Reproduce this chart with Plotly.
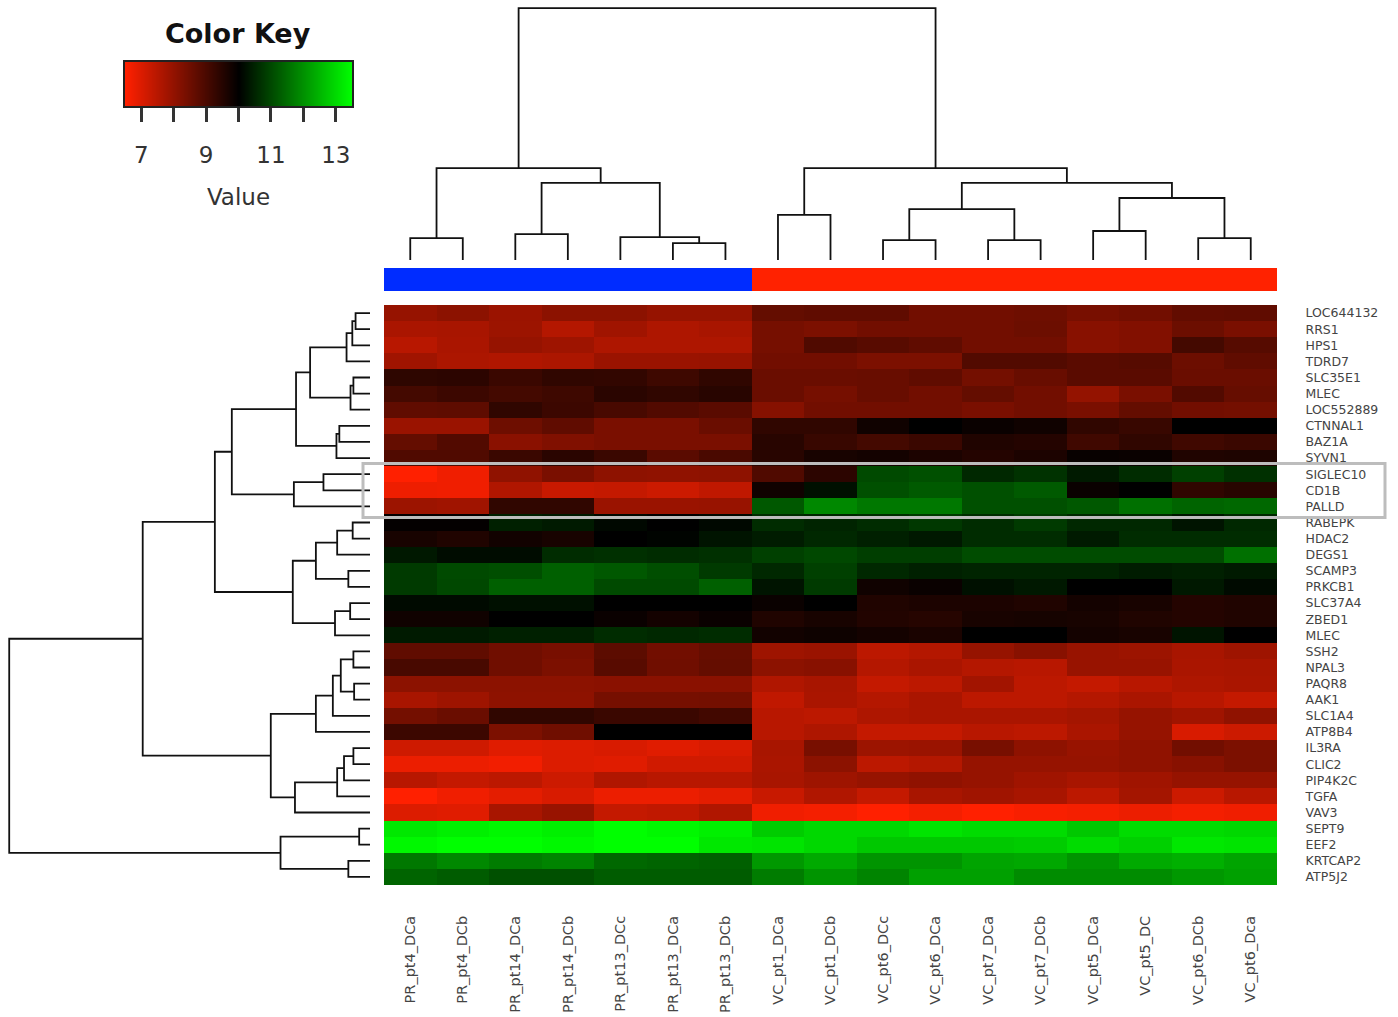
import plotly.graph_objects as go

W, H = 1398, 1017

col_labels = ["PR_pt4_DCa", "PR_pt4_DCb", "PR_pt14_DCa", "PR_pt14_DCb", "PR_pt13_DCc",
              "PR_pt13_DCa", "PR_pt13_DCb", "VC_pt1_DCa", "VC_pt1_DCb", "VC_pt6_DCc",
              "VC_pt6_DCa", "VC_pt7_DCa", "VC_pt7_DCb", "VC_pt5_DCa", "VC_pt5_DC",
              "VC_pt6_DCb", "VC_pt6_Dca"]
col_groups = ["PR"] * 7 + ["VC"] * 10

row_labels = ["LOC644132", "RRS1", "HPS1", "TDRD7", "SLC35E1", "MLEC", "LOC552889",
              "CTNNAL1", "BAZ1A", "SYVN1", "SIGLEC10", "CD1B", "PALLD", "RABEPK",
              "HDAC2", "DEGS1", "SCAMP3", "PRKCB1", "SLC37A4", "ZBED1", "MLEC", "SSH2",
              "NPAL3", "PAQR8", "AAK1", "SLC1A4", "ATP8B4", "IL3RA", "CLIC2", "PIP4K2C",
              "TGFA", "VAV3", "SEPT9", "EEF2", "KRTCAP2", "ATP5J2"]

# expression values, PR samples (7 columns)
pr_values = [
    [7.94, 8.08, 7.87, 8.08, 8.08, 7.94, 7.94],
    [7.67, 7.69, 7.86, 7.53, 7.80, 7.61, 7.69],
    [7.47, 7.67, 7.94, 7.83, 7.61, 7.61, 7.61],
    [7.80, 7.64, 7.58, 7.64, 7.89, 7.89, 7.91],
    [9.37, 9.40, 9.20, 9.34, 9.31, 9.15, 9.34],
    [9.07, 9.18, 9.07, 9.15, 9.42, 9.34, 9.45],
    [8.68, 8.71, 9.34, 9.18, 9.01, 8.87, 8.76],
    [7.89, 7.89, 8.49, 8.68, 8.32, 8.32, 8.54],
    [8.63, 8.87, 8.11, 8.24, 8.32, 8.32, 8.32],
    [8.90, 8.90, 9.20, 9.42, 9.20, 8.76, 8.98],
    [6.50, 6.71, 8.02, 8.32, 8.05, 8.02, 8.05],
    [6.73, 6.71, 7.58, 7.25, 7.31, 7.20, 7.36],
    [7.86, 7.80, 9.34, 9.34, 7.89, 7.89, 7.91],
    [9.95, 9.95, 10.44, 10.36, 10.11, 10.00, 10.11],
    [9.67, 9.56, 9.75, 9.67, 10.00, 10.05, 10.27],
    [10.33, 10.16, 10.16, 10.60, 10.66, 10.60, 10.66],
    [10.80, 11.02, 11.07, 11.32, 11.21, 11.07, 10.80],
    [10.80, 10.99, 11.32, 11.32, 11.02, 11.02, 11.32],
    [10.14, 10.14, 10.22, 10.22, 10.00, 10.00, 10.00],
    [9.78, 9.78, 10.00, 10.00, 9.86, 9.73, 9.86],
    [10.36, 10.36, 10.44, 10.44, 10.60, 10.55, 10.60],
    [8.68, 8.68, 8.46, 8.35, 8.74, 8.43, 8.60],
    [9.01, 9.01, 8.46, 8.30, 8.79, 8.46, 8.63],
    [8.08, 8.08, 8.08, 8.08, 8.11, 8.11, 8.11],
    [7.69, 7.83, 8.05, 8.05, 8.38, 8.38, 8.41],
    [8.41, 8.54, 9.34, 9.34, 9.20, 9.20, 9.09],
    [9.18, 9.18, 8.30, 8.46, 10.00, 10.00, 10.00],
    [7.17, 7.17, 6.92, 6.98, 7.03, 6.92, 7.03],
    [6.76, 6.76, 6.68, 6.98, 6.92, 7.14, 7.14],
    [7.47, 7.31, 7.42, 7.20, 7.58, 7.47, 7.47],
    [6.50, 6.71, 6.87, 7.03, 6.76, 6.76, 6.87],
    [6.98, 6.92, 7.69, 7.91, 7.31, 7.36, 7.58],
    [13.19, 13.29, 13.40, 13.29, 13.50, 13.40, 13.29],
    [13.40, 13.50, 13.50, 13.40, 13.50, 13.50, 13.19],
    [11.65, 11.87, 11.70, 11.81, 11.43, 11.37, 11.32],
    [11.37, 11.26, 11.10, 11.10, 11.26, 11.26, 11.26],
]

# expression values, VC samples (10 columns)
vc_values = [
    [8.63, 8.68, 8.68, 8.43, 8.43, 8.49, 8.35, 8.43, 8.65, 8.68],
    [8.38, 8.30, 8.43, 8.43, 8.43, 8.52, 8.13, 8.22, 8.52, 8.32],
    [8.38, 8.90, 8.79, 8.68, 8.43, 8.43, 8.13, 8.22, 9.07, 8.82],
    [8.43, 8.43, 8.30, 8.30, 8.87, 8.87, 8.76, 8.82, 8.52, 8.68],
    [8.54, 8.54, 8.57, 8.68, 8.41, 8.57, 8.76, 8.76, 8.54, 8.54],
    [8.54, 8.38, 8.57, 8.43, 8.63, 8.43, 7.97, 8.32, 8.87, 8.60],
    [8.16, 8.43, 8.43, 8.43, 8.32, 8.43, 8.32, 8.63, 8.43, 8.41],
    [9.34, 9.34, 9.78, 10.00, 9.86, 9.78, 9.34, 9.23, 10.00, 10.00],
    [9.45, 9.23, 9.07, 9.20, 9.56, 9.51, 9.12, 9.34, 9.12, 9.20],
    [9.45, 9.67, 9.73, 9.62, 9.51, 9.62, 9.89, 9.86, 9.56, 9.59],
    [8.90, 9.40, 11.02, 11.10, 10.55, 10.69, 10.36, 10.60, 10.88, 10.66],
    [9.78, 10.22, 11.10, 11.24, 11.10, 11.24, 9.86, 10.00, 9.34, 9.45],
    [11.21, 11.87, 11.65, 11.65, 11.10, 11.10, 11.21, 11.54, 11.37, 11.43],
    [10.60, 10.49, 10.60, 10.77, 10.60, 10.80, 10.55, 10.55, 10.27, 10.55],
    [10.38, 10.55, 10.44, 10.33, 10.60, 10.60, 10.36, 10.60, 10.60, 10.60],
    [10.88, 10.99, 10.85, 10.85, 11.04, 11.04, 11.04, 11.04, 11.04, 11.54],
    [10.55, 10.88, 10.55, 10.44, 10.49, 10.49, 10.49, 10.38, 10.44, 10.36],
    [10.27, 10.80, 9.78, 9.86, 10.22, 10.33, 10.00, 10.00, 10.33, 10.14],
    [9.86, 10.00, 9.56, 9.62, 9.62, 9.56, 9.73, 9.67, 9.51, 9.56],
    [9.56, 9.67, 9.53, 9.48, 9.67, 9.70, 9.67, 9.56, 9.51, 9.56],
    [9.75, 9.81, 9.73, 9.64, 10.00, 10.00, 9.73, 9.67, 10.27, 10.00],
    [7.83, 7.89, 7.42, 7.53, 7.94, 8.13, 7.91, 7.86, 7.69, 7.83],
    [8.08, 8.13, 7.53, 7.67, 7.53, 7.47, 7.91, 7.91, 7.67, 7.69],
    [7.58, 7.69, 7.31, 7.42, 7.78, 7.42, 7.31, 7.47, 7.61, 7.67],
    [7.36, 7.67, 7.53, 7.67, 7.42, 7.42, 7.53, 7.67, 7.47, 7.31],
    [7.47, 7.42, 7.61, 7.67, 7.67, 7.67, 7.75, 7.94, 7.80, 8.02],
    [7.47, 7.61, 7.31, 7.31, 7.47, 7.42, 7.67, 7.94, 7.03, 7.20],
    [7.69, 8.35, 7.86, 7.89, 8.35, 8.05, 7.91, 8.02, 8.43, 8.30],
    [7.67, 8.08, 7.42, 7.53, 7.94, 7.94, 7.94, 8.02, 8.13, 8.30],
    [7.69, 7.83, 7.94, 8.02, 7.94, 7.80, 7.69, 7.80, 7.94, 7.94],
    [7.25, 7.58, 7.31, 7.69, 7.80, 7.69, 7.42, 7.75, 7.20, 7.47],
    [6.71, 6.65, 6.50, 6.65, 6.50, 6.60, 6.65, 6.76, 6.65, 6.71],
    [12.80, 12.97, 12.97, 13.13, 13.02, 13.02, 12.75, 13.02, 13.02, 12.97],
    [13.13, 12.97, 12.75, 12.75, 12.75, 12.80, 13.02, 12.86, 13.19, 13.13],
    [12.09, 12.33, 12.03, 12.03, 12.25, 12.31, 12.03, 12.33, 12.42, 12.25],
    [11.70, 12.03, 11.81, 12.20, 12.20, 11.92, 11.92, 11.92, 12.09, 12.20],
]

# hclust-style merges: negative = leaf (1-based), positive = earlier merge (1-based)
col_merges = [
    (-1, -2, 0.087), (-3, -4, 0.103), (-6, -7, 0.067), (-5, 3, 0.091),
    (2, 4, 0.306), (1, 5, 0.365), (-8, -9, 0.179), (-10, -11, 0.079),
    (-12, -13, 0.079), (8, 9, 0.202), (-14, -15, 0.115), (-16, -17, 0.087),
    (11, 12, 0.246), (10, 13, 0.306), (7, 14, 0.365), (6, 15, 1.0),
]
row_merges = [
    (-1, -2, 0.040), (1, -3, 0.049), (2, -4, 0.065), (-5, -6, 0.046),
    (4, -7, 0.054), (3, 5, 0.166), (-8, -9, 0.085), (7, -10, 0.093),
    (6, 8, 0.205), (-11, -12, 0.129), (10, -13, 0.211), (9, 11, 0.383),
    (-14, -15, 0.048), (13, -16, 0.091), (-17, -18, 0.060), (14, 15, 0.150),
    (-19, -20, 0.055), (17, -21, 0.097), (16, 18, 0.214), (12, 19, 0.430),
    (-22, -23, 0.046), (-24, -25, 0.044), (21, 22, 0.081), (23, -26, 0.103),
    (24, -27, 0.150), (-28, -29, 0.046), (26, -30, 0.072), (27, -31, 0.091),
    (28, -32, 0.208), (25, 29, 0.275), (20, 30, 0.630), (-33, -34, 0.030),
    (-35, -36, 0.060), (32, 33, 0.248), (31, 34, 1.0),
]
highlight_rows = ["SIGLEC10", "CD1B", "PALLD"]

key_range = [6.5, 13.5]
key_ticks = [7, 8, 9, 10, 11, 12, 13]
key_ticktext = ["7", "", "9", "", "11", "", "13"]

RED = "rgb(255,32,0)"
GREEN = "rgb(0,255,0)"
BLUE_BAR = "rgb(0,44,255)"
RED_BAR = "rgb(255,34,0)"
FONT = "DejaVu Sans"


def dendro_lines(merges):
    nodes = []
    xs, ys = [], []

    def get(ref):
        if ref < 0:
            return (-ref - 1, 0.0)
        return nodes[ref - 1]

    for a, b, h in merges:
        pa, ha = get(a)
        pb, hb = get(b)
        xs += [pa, pa, pb, pb, None]
        ys += [ha, h, h, hb, None]
        nodes.append(((pa + pb) / 2.0, h))
    return xs, ys


z = [pr + vc for pr, vc in zip(pr_values, vc_values)]
n_rows, n_cols = len(row_labels), len(col_labels)


def px_x(p):
    return p / W


def px_y(p):
    return 1 - p / H


hm_x = [px_x(384), px_x(1277)]
hm_y = [px_y(885), px_y(305)]

colorscale = [[0.0, RED], [0.5, "rgb(0,0,0)"], [1.0, GREEN]]

fig = go.Figure()

# main heatmap
fig.add_trace(go.Heatmap(
    z=z, x=list(range(n_cols)), y=list(range(n_rows)),
    colorscale=colorscale, zmin=key_range[0], zmax=key_range[1],
    showscale=False, xaxis="x", yaxis="y", hoverinfo="skip",
))

# column side colours
group_names = sorted(set(col_groups))
fig.add_trace(go.Heatmap(
    z=[[group_names.index(g) for g in col_groups]], x=list(range(n_cols)), y=[0],
    colorscale=[[0, BLUE_BAR], [0.5, BLUE_BAR], [0.5, RED_BAR], [1, RED_BAR]],
    zmin=0, zmax=1, showscale=False, xaxis="x2", yaxis="y2", hoverinfo="skip",
))

# column dendrogram
cx, cy = dendro_lines(col_merges)
fig.add_trace(go.Scatter(x=cx, y=cy, mode="lines", line=dict(color="#111", width=1.8),
                         xaxis="x3", yaxis="y3", showlegend=False, hoverinfo="skip"))

# row dendrogram
rx, ry = dendro_lines(row_merges)
fig.add_trace(go.Scatter(x=ry, y=rx, mode="lines", line=dict(color="#111", width=1.8),
                         xaxis="x4", yaxis="y4", showlegend=False, hoverinfo="skip"))

# colour key (gradient interpolated by the heatmap between the range ends)
fig.add_trace(go.Heatmap(
    z=[key_range], x=key_range, y=[0], zsmooth="best",
    colorscale=colorscale, zmin=key_range[0], zmax=key_range[1],
    showscale=False, xaxis="x5", yaxis="y5", hoverinfo="skip",
))

hidden = dict(showgrid=False, zeroline=False, showline=False, showticklabels=False,
              ticks="", automargin=False)

fig.update_layout(
    width=W, height=H, margin=dict(l=0, r=0, t=0, b=0),
    paper_bgcolor="white", plot_bgcolor="white", template="none", showlegend=False,
    xaxis=dict(domain=hm_x, range=[-0.5, n_cols - 0.5], anchor="y",
               tickvals=list(range(n_cols)), ticktext=col_labels, tickangle=-90,
               ticks="outside", ticklen=24, tickcolor="rgba(0,0,0,0)",
               tickfont=dict(family=FONT, size=14.5, color="#444"),
               showgrid=False, zeroline=False, showline=False, automargin=False),
    yaxis=dict(domain=hm_y, range=[n_rows - 0.5, -0.5], anchor="x", side="right",
               tickvals=list(range(n_rows)), ticktext=row_labels,
               ticks="outside", ticklen=25, tickcolor="rgba(0,0,0,0)",
               tickfont=dict(family=FONT, size=12.5, color="#444"),
               showgrid=False, zeroline=False, showline=False, automargin=False),
    xaxis2=dict(domain=hm_x, range=[-0.5, n_cols - 0.5], anchor="y2", **hidden),
    yaxis2=dict(domain=[px_y(291), px_y(268)], range=[-0.5, 0.5], anchor="x2", **hidden),
    xaxis3=dict(domain=hm_x, range=[-0.5, n_cols - 0.5], anchor="y3", **hidden),
    yaxis3=dict(domain=[px_y(260), px_y(3)], range=[0, 1.02], anchor="x3", **hidden),
    xaxis4=dict(domain=[px_x(2), px_x(370)], range=[1.02, 0], anchor="y4", **hidden),
    yaxis4=dict(domain=hm_y, range=[n_rows - 0.5, -0.5], anchor="x4", **hidden),
    xaxis5=dict(domain=[px_x(125), px_x(352)], range=key_range, anchor="y5",
                tickvals=key_ticks, ticktext=key_ticktext,
                ticks="outside", ticklen=14, tickwidth=2.5, tickcolor="#333",
                ticklabelstandoff=14,
                tickfont=dict(family=FONT, size=23, color="#333"),
                title=dict(text="Value", standoff=22, font=dict(family=FONT, size=23, color="#333")),
                showline=True, mirror=True, linecolor="#222", linewidth=1.5,
                showgrid=False, zeroline=False, automargin=False),
    yaxis5=dict(domain=[px_y(106), px_y(62)], range=[-0.5, 0.5], anchor="x5",
                showline=True, mirror=True, linecolor="#222", linewidth=1.5,
                showgrid=False, zeroline=False, showticklabels=False, ticks="",
                automargin=False),
)

# highlight box around selected rows
hl_idx = [row_labels.index(r) for r in highlight_rows]
fig.add_shape(type="rect", xref="paper", yref="y",
              x0=px_x(363), x1=px_x(1385),
              y0=min(hl_idx) - 0.5 - 0.16, y1=max(hl_idx) + 0.5 + 0.19,
              line=dict(color="#bdbdbd", width=3), fillcolor="rgba(0,0,0,0)", layer="above")

fig.add_annotation(text="<b>Color Key</b>", xref="paper", yref="paper",
                   x=px_x(238), y=px_y(33), xanchor="center", yanchor="middle",
                   showarrow=False, font=dict(family=FONT, size=27, color="#111"))

fig.write_html("out.html", config={"displayModeBar": False},
               post_script="document.body.style.margin='0px';")
